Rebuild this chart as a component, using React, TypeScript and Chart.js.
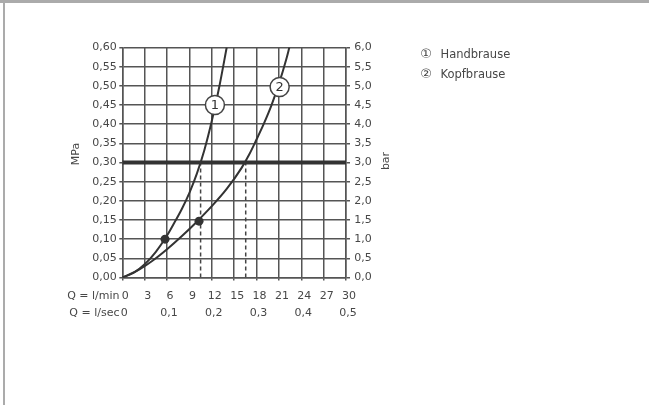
import React, { useEffect, useRef } from 'react';
import { Chart, registerables } from 'chart.js';

Chart.register(...registerables);

// Flow (l/min) and pressure (MPa)
const handQ = [0, 1.5, 3, 4.5, 6, 7, 8, 9, 10, 11, 12, 13, 14];
const handP = [0, 0.012, 0.0345, 0.067, 0.1095, 0.1435, 0.1795, 0.221, 0.271, 0.332, 0.408, 0.497, 0.6];
const headQ = [0, 2, 4, 6, 8, 10, 12, 14, 16, 17, 18, 19, 20, 21, 22, 22.4];
const headP = [0, 0.0177, 0.043, 0.0738, 0.1083, 0.1456, 0.186, 0.231, 0.286, 0.32, 0.36, 0.402, 0.449, 0.505, 0.57, 0.6];

const refPressure = 0.3;
const refFlows = [10.5, 16.55];
const markerQ = [5.73, 10.29];
const markerP = [0.1, 0.147];
const labelQ = [12.42, 21.1];
const labelP = [0.45, 0.497];
const labelText = ['1', '2'];

const legendMarks = ['\u2460', '\u2461'];
const legendNames = ['Handbrause', 'Kopfbrause'];
const leftTitle = 'MPa';
const rightTitle = 'bar';
const rowTitles = ['Q = l/min', 'Q = l/sec'];

const FONT = '"DejaVu Sans", "Noto Sans", sans-serif';
const TEXT = '#474747';
const GRID = '#555555';
const INK = '#333333';

const overlay = {
  id: 'overlay',
  afterDatasetsDraw(chart: any) {
    const { ctx, scales } = chart;
    const x = scales.x;
    const y = scales.y;
    ctx.save();
    labelQ.forEach((q, i) => {
      const px = x.getPixelForValue(q);
      const py = y.getPixelForValue(labelP[i]);
      ctx.beginPath();
      ctx.arc(px, py, 9.5, 0, Math.PI * 2);
      ctx.fillStyle = '#ffffff';
      ctx.fill();
      ctx.lineWidth = 1.5;
      ctx.strokeStyle = '#444444';
      ctx.stroke();
      ctx.fillStyle = INK;
      ctx.font = `13px ${FONT}`;
      ctx.textAlign = 'center';
      ctx.textBaseline = 'middle';
      ctx.fillText(labelText[i], px, py + 0.5);
    });
    ctx.restore();
  },
  afterDraw(chart: any) {
    const { ctx, scales } = chart;
    ctx.save();
    ctx.fillStyle = TEXT;
    ctx.font = `11px ${FONT}`;
    ctx.textAlign = 'center';
    ctx.textBaseline = 'middle';
    ctx.save();
    ctx.translate(76, 154);
    ctx.rotate(-Math.PI / 2);
    ctx.fillText(leftTitle, 0, 0);
    ctx.restore();
    ctx.save();
    ctx.translate(386, 161);
    ctx.rotate(-Math.PI / 2);
    ctx.fillText(rightTitle, 0, 0);
    ctx.restore();
    ctx.textAlign = 'right';
    const x = scales.x;
    const x2 = scales.x2;
    ctx.fillText(rowTitles[0], 119.5, x.top + 3 + 9 + 6.6);
    ctx.fillText(rowTitles[1], 119.5, x2.top + 3 + 6.6);
    legendNames.forEach((name, i) => {
      const ly = 55 + i * 20;
      ctx.font = `13px ${FONT}`;
      ctx.textAlign = 'center';
      ctx.fillText(legendMarks[i], 426, ly);
      ctx.font = `11.5px ${FONT}`;
      ctx.textAlign = 'left';
      ctx.fillText(name, 440.5, ly);
    });
    ctx.restore();
  },
};

export default function App() {
  const ref = useRef<HTMLCanvasElement | null>(null);

  useEffect(() => {
    if (!ref.current) return;
    const tickFont = { family: FONT, size: 11 };
    const chart = new Chart(ref.current, {
      type: 'line',
      data: {
        datasets: [
          {
            label: 'markers',
            data: markerQ.map((q, i) => ({ x: q, y: markerP[i] })),
            showLine: false,
            pointRadius: 4.5,
            pointBackgroundColor: INK,
            pointBorderColor: INK,
            borderWidth: 0,
          },
          {
            label: 'Handbrause',
            data: handQ.map((q, i) => ({ x: q, y: handP[i] })),
            borderColor: INK,
            borderWidth: 2,
            pointRadius: 0,
            cubicInterpolationMode: 'monotone',
            fill: false,
          },
          {
            label: 'Kopfbrause',
            data: headQ.map((q, i) => ({ x: q, y: headP[i] })),
            borderColor: INK,
            borderWidth: 2,
            pointRadius: 0,
            cubicInterpolationMode: 'monotone',
            fill: false,
          },
          {
            label: 'ref',
            data: [
              { x: 0, y: refPressure },
              { x: 30, y: refPressure },
            ],
            borderColor: INK,
            borderWidth: 4,
            pointRadius: 0,
          },
          ...refFlows.map((q) => ({
            label: 'drop',
            data: [
              { x: q, y: 0 },
              { x: q, y: refPressure },
            ],
            borderColor: '#444444',
            borderWidth: 1.5,
            borderDash: [4, 3],
            pointRadius: 0,
          })),
        ],
      },
      options: {
        animation: false,
        responsive: false,
        maintainAspectRatio: false,
        layout: { padding: { left: 0, top: 47.5, right: 0, bottom: 0 } },
        plugins: { legend: { display: false }, tooltip: { enabled: false } },
        scales: {
          x: {
            type: 'linear',
            position: 'bottom',
            weight: 0,
            min: 0,
            max: 30,
            ticks: {
              stepSize: 3,
              labelOffset: 3,
              padding: 9,
              color: TEXT,
              font: tickFont,
              maxRotation: 0,
              autoSkip: false,
              callback: (v: any) => String(v),
            },
            grid: { color: GRID, lineWidth: 1.5, tickLength: 3 },
            border: { color: GRID, width: 1.5 },
            afterFit: (s: any) => {
              s.height = 26;
            },
          },
          x2: {
            type: 'linear',
            position: 'bottom',
            weight: 1,
            min: 0,
            max: 0.5,
            ticks: {
              stepSize: 0.1,
              labelOffset: 2,
              padding: 3,
              color: TEXT,
              font: tickFont,
              maxRotation: 0,
              autoSkip: false,
              callback: (v: any) => (v === 0 ? '0' : Number(v).toFixed(1).replace('.', ',')),
            },
            grid: { display: false, drawTicks: false },
            border: { display: false },
            afterFit: (s: any) => {
              s.height = 405 - 277.5 - 26;
            },
          },
          y: {
            type: 'linear',
            position: 'left',
            min: 0,
            max: 0.6,
            ticks: {
              stepSize: 0.05,
              padding: 2.6,
              color: TEXT,
              font: tickFont,
              autoSkip: false,
              callback: (v: any) => Number(v).toFixed(2).replace('.', ','),
            },
            grid: { color: GRID, lineWidth: 1.5, tickLength: 3 },
            border: { color: GRID, width: 1.5 },
            afterFit: (s: any) => {
              s.width = 122.3;
            },
          },
          y2: {
            type: 'linear',
            position: 'right',
            min: 0,
            max: 6,
            ticks: {
              stepSize: 0.5,
              padding: 4.3,
              color: TEXT,
              font: tickFont,
              autoSkip: false,
              callback: (v: any) => Number(v).toFixed(1).replace('.', ','),
            },
            grid: { color: GRID, lineWidth: 1.5, tickLength: 4, drawOnChartArea: false },
            border: { color: GRID, width: 1.5 },
            afterFit: (s: any) => {
              s.width = 649 - 346;
            },
          },
        },
      },
      plugins: [overlay],
    } as any);
    return () => chart.destroy();
  }, []);

  return (
    <div style={{ position: 'fixed', left: 0, top: 0, width: 649, height: 405, background: '#fff' }}>
      <canvas ref={ref} width={649} height={405} style={{ position: 'absolute', left: 0, top: 0 }} />
      <div style={{ position: 'absolute', left: 0, top: 0, width: 649, height: 3, background: '#ababab' }} />
      <div style={{ position: 'absolute', left: 3, top: 0, width: 2, height: 405, background: '#ababab' }} />
    </div>
  );
}
